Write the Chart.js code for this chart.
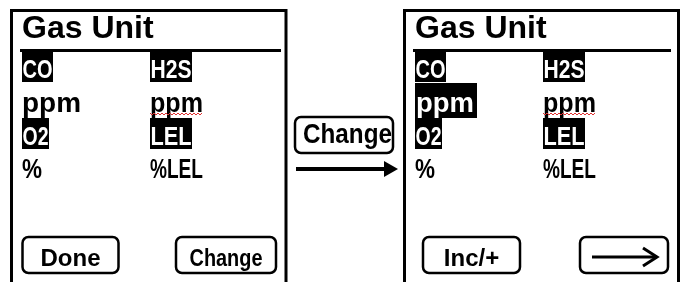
<!DOCTYPE html>
<html>
<head>
<meta charset="utf-8">
<script src="https://cdn.jsdelivr.net/npm/chart.js@4"></script>
<style>
  html, body { margin: 0; padding: 0; background: #fff; }
  #wrap { width: 683px; height: 282px; position: relative; }
</style>
</head>
<body>
<div id="wrap"><canvas id="screen"></canvas></div>
<script>
// screen text content
const screenTitle = 'Gas Unit';
const gasNames = ['CO', 'H2S', 'O2', 'LEL'];
const gasUnits = ['ppm', 'ppm', '%', '%LEL'];
const leftButtons = ['Done', 'Change'];
const rightButtons = ['Inc/+', 'arrow'];
const middleButton = 'Change';

const FONT = '"Liberation Sans", Arial, Helvetica, sans-serif';

// panel layout, in screen units (the x/y scales run 0..683 / 0..282)
const panels = [
  { x0: 11.5, x1: 286, off: 0, highlightUnit: false, buttons: leftButtons,
    btnBoxes: [[22.5, 237, 96, 36], [176, 237, 100, 36]] },
  { x0: 404.5, x1: 678.5, off: 393, highlightUnit: true, buttons: rightButtons,
    btnBoxes: [[423, 237, 97, 36], [580, 237, 88, 36]] }
];

const screenPlugin = {
  id: 'screenPlugin',
  afterDraw(chart) {
    const ctx = chart.ctx;
    const sx = chart.scales.x, sy = chart.scales.y;
    const X = v => sx.getPixelForValue(v);
    const Y = v => sy.getPixelForValue(v);

    ctx.save();
    ctx.strokeStyle = '#000';
    ctx.fillStyle = '#000';

    function text(str, x, y, size, maxW, color) {
      ctx.font = 'bold ' + size + 'px ' + FONT;
      ctx.fillStyle = color || '#000';
      ctx.textBaseline = 'alphabetic';
      ctx.textAlign = 'left';
      if (maxW) ctx.fillText(str, X(x), Y(y), maxW);
      else ctx.fillText(str, X(x), Y(y));
    }

    function labelBox(str, x, y, w, h, base) {
      ctx.fillStyle = '#000';
      ctx.fillRect(X(x), Y(y), w, h);
      text(str, x + 0.5, base, 25, w - 1, '#fff');
    }

    function button(x, y, w, h) {
      ctx.lineWidth = 2.5;
      ctx.beginPath();
      ctx.roundRect(X(x), Y(y), w, h, 6);
      ctx.stroke();
    }

    function squiggle(x, y, w) {
      ctx.strokeStyle = '#e03030';
      ctx.lineWidth = 1;
      ctx.beginPath();
      for (let i = 0; i <= w; i += 2) {
        const yy = y + ((i / 2) % 2 === 0 ? 0 : 2);
        if (i === 0) ctx.moveTo(X(x + i), Y(yy));
        else ctx.lineTo(X(x + i), Y(yy));
      }
      ctx.stroke();
      ctx.strokeStyle = '#000';
    }

    panels.forEach(p => {
      const o = p.off;
      // frame (open at the bottom)
      ctx.lineWidth = 3;
      ctx.beginPath();
      ctx.moveTo(X(p.x0), Y(290));
      ctx.lineTo(X(p.x0), Y(10.5));
      ctx.lineTo(X(p.x1), Y(10.5));
      ctx.lineTo(X(p.x1), Y(290));
      ctx.stroke();

      // title + rule
      text(screenTitle, 22 + o, 38, 32);
      ctx.lineWidth = 3;
      ctx.beginPath();
      ctx.moveTo(X(20 + o), Y(50.5));
      ctx.lineTo(X(281 + o - (o ? 3 : 0)), Y(50.5));
      ctx.stroke();

      // gas names in black boxes
      labelBox(gasNames[0], 22 + o, 51, 31, 31, 78);
      labelBox(gasNames[1], 150 + o, 51, 42, 31, 78);

      // units row 1
      if (p.highlightUnit) {
        ctx.fillStyle = '#000';
        ctx.fillRect(X(22 + o), Y(83), 62, 35);
        text(gasUnits[0], 23 + o, 112, 28, 58, '#fff');
      } else {
        text(gasUnits[0], 22 + o, 112, 28, 59, '#000');
      }
      text(gasUnits[1], 150 + o, 112, 28, 53, '#000');
      squiggle(150 + o, 113, 52);

      labelBox(gasNames[2], 22 + o, 118, 27, 31, 145);
      labelBox(gasNames[3], 150 + o, 118, 42, 31, 145);

      // units row 2
      text(gasUnits[2], 22 + o, 178, 27, 20);
      text(gasUnits[3], 150 + o, 178, 27, 53);

      // soft keys
      p.buttons.forEach((b, i) => {
        const [bx, by, bw, bh] = p.btnBoxes[i];
        button(bx, by, bw, bh);
        if (b === 'arrow') {
          ctx.lineWidth = 3;
          ctx.beginPath();
          ctx.moveTo(X(bx + 12), Y(257));
          ctx.lineTo(X(bx + bw - 11), Y(257));
          ctx.stroke();
          ctx.beginPath();
          ctx.moveTo(X(bx + bw - 25), Y(248));
          ctx.lineTo(X(bx + bw - 11), Y(257));
          ctx.lineTo(X(bx + bw - 25), Y(266));
          ctx.stroke();
        } else {
          ctx.font = 'bold 24px ' + FONT;
          const natural = ctx.measureText(b).width;
          const maxW = Math.min(natural, bw - 27);
          text(b, bx + (bw - maxW) / 2, 266, 24, maxW);
        }
      });
    });

    // middle "Change" key and arrow
    button(295, 117, 98, 36);
    text(middleButton, 303, 143, 27, 89);
    ctx.lineWidth = 4;
    ctx.beginPath();
    ctx.moveTo(X(296), Y(169));
    ctx.lineTo(X(388), Y(169));
    ctx.stroke();
    ctx.fillStyle = '#000';
    ctx.beginPath();
    ctx.moveTo(X(384), Y(161));
    ctx.lineTo(X(398), Y(169));
    ctx.lineTo(X(384), Y(177));
    ctx.closePath();
    ctx.fill();

    ctx.restore();
  }
};

new Chart(document.getElementById('screen'), {
  type: 'scatter',
  data: { datasets: [] },
  options: {
    responsive: true,
    maintainAspectRatio: false,
    animation: false,
    layout: { padding: 0 },
    plugins: { legend: { display: false }, tooltip: { enabled: false } },
    scales: {
      x: { type: 'linear', min: 0, max: 683, display: false },
      y: { type: 'linear', min: 0, max: 282, reverse: true, display: false }
    }
  },
  plugins: [screenPlugin]
});
</script>
</body>
</html>
